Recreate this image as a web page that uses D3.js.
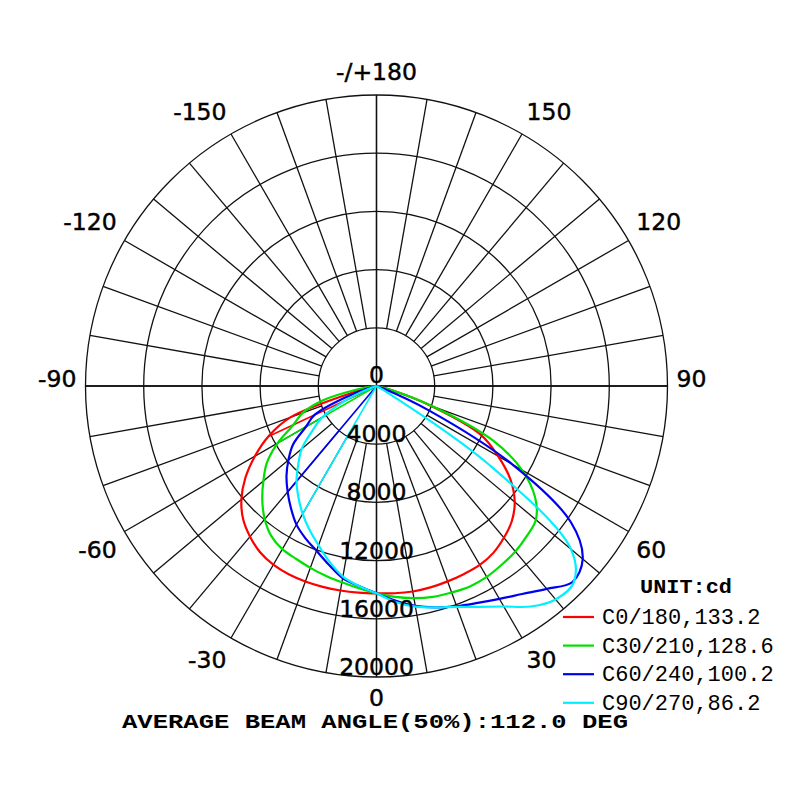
<!DOCTYPE html>
<html><head><meta charset="utf-8">
<script src="https://cdn.jsdelivr.net/npm/d3@7"></script>
<style>body{margin:0;background:#fff}svg{display:block}</style></head>
<body><svg id="c" width="800" height="800"></svg>
<script>
// ---- data (candela) ----
const GAMMA = [0,5,10,15,20,25,30,35,40,45,50,55,60,65,70,75,80,85,90];
const C0   = [14250,14300,14340,14330,14290,14250,14200,14000,13620,13150,12400,11250,9650,7900,4000,1000,100,0,0];
const C180 = [14250,14250,14270,14290,14300,14280,14180,13950,13520,12960,12120,11000,9650,8200,6300,1500,300,0,0];
const C30  = [14250,14550,14800,15000,15100,15200,15150,15000,14850,14600,14300,13300,11550,8800,4200,1000,100,0,0];
const C210 = [14250,13950,13700,13500,13300,13100,12950,12600,11950,11100,10150,9200,7850,6300,5400,3800,1300,200,0];
const C60  = [14250,14800,15350,15750,16100,16450,16900,17450,18200,19050,18500,16300,10800,4000,500,0,0,0,0];
const C240 = [14250,13800,13400,12700,12050,11550,11000,10250,9500,8750,7900,7000,5600,4700,2200,500,0,0,0];
const C90  = [14250,14900,15400,15750,16150,16750,17500,18500,19150,19150,17450,9500,500,0,0,0,0,0,0];
const C270 = [14250,13800,13300,12500,11650,10900,10150,9350,8550,7600,6700,5400,4300,2300,600,0,0,0,0];
const CHORD_GAMMA = [65, 60, 40, 30];
const SERIES_NAMES = ["C0/180,133.2", "C30/210,128.6", "C60/240,100.2", "C90/270,86.2"];
const SERIES_COLORS = ["#ff0000", "#00e000", "#0000f0", "#00f0ff"];
const RING_VALUES = [4000, 8000, 12000, 16000, 20000];
const RING_LABELS = ["0", "4000", "8000", "12000", "16000", "20000"];
const ANGLE_TICKS = [0, 30, 60, 90, 120, 150, 180, -150, -120, -90, -60, -30];
const ANGLE_TEXT = ["0", "30", "60", "90", "120", "150", "-/+180", "-150", "-120", "-90", "-60", "-30"];
const UNIT_TEXT = "UNIT:cd";
const TITLE_TEXT = "AVERAGE BEAM ANGLE(50%):112.0 DEG";

// ---- layout ----
const cx = 376.5, cy = 386, R = 291;
const svg = d3.select("#c");
svg.append("rect").attr("width", 800).attr("height", 800).attr("fill", "#fff");
const g = svg.append("g").attr("transform", `translate(${cx},${cy})`);
const rScale = d3.scaleLinear().domain([0, 20000]).range([0, R]);
// angle measured from nadir (down), positive to the right
const aScale = d3.scaleLinear().domain([-180, 180]).range([2 * Math.PI, 0]);
const pt = (deg, r) => d3.pointRadial(aScale(deg), r);

// grid circles
g.selectAll("circle.ring").data(RING_VALUES).join("circle")
  .attr("r", d => rScale(d)).attr("fill", "none")
  .attr("stroke", "#111").attr("stroke-width", 1.3);

// spokes
const spokes = d3.range(-170, 190, 10);
g.selectAll("line.spoke").data(spokes).join("line")
  .each(function (d) {
    const full = d % 90 === 0;
    const p0 = full ? [0, 0] : pt(d, rScale(RING_VALUES[0]));
    const p1 = pt(d, rScale(RING_VALUES[RING_VALUES.length - 1]));
    d3.select(this).attr("x1", p0[0]).attr("y1", p0[1]).attr("x2", p1[0]).attr("y2", p1[1]);
  })
  .attr("stroke", "#111").attr("stroke-width", 1.3);
[0, 90].forEach(d => {
  const a = pt(d, R), b = pt(d + 180, R);
  g.append("line").attr("x1", a[0]).attr("y1", a[1]).attr("x2", b[0]).attr("y2", b[1])
    .attr("stroke", "#111").attr("stroke-width", 1.3);
});

// curves
const series = [
  { right: C0, left: C180 },
  { right: C30, left: C210 },
  { right: C60, left: C240 },
  { right: C90, left: C270 }
].map((s, i) => ({ ...s, name: SERIES_NAMES[i], color: SERIES_COLORS[i], chord: CHORD_GAMMA[i] }));

const line = d3.lineRadial()
  .angle(d => aScale(d[0])).radius(d => rScale(d[1]))
  .curve(d3.curveCatmullRom.alpha(0.5));
const chordLine = d3.lineRadial().angle(d => aScale(d[0])).radius(d => rScale(d[1]));

series.forEach(s => {
  const pts = [];
  for (let j = GAMMA.length - 1; j >= 0; j--) pts.push([-GAMMA[j], s.left[j]]);
  for (let j = 1; j < GAMMA.length; j++) pts.push([GAMMA[j], s.right[j]]);
  g.append("path").attr("d", line(pts)).attr("fill", "none")
    .attr("stroke", s.color).attr("stroke-width", 2.2).attr("stroke-linejoin", "round");
  const k = GAMMA.indexOf(s.chord);
  g.append("path").attr("d", chordLine([[-s.chord, 0], [-s.chord, s.left[k]]]))
    .attr("fill", "none").attr("stroke", s.color).attr("stroke-width", 1.6);
});

const labelFont = sel => sel.attr("font-family", "DejaVu Sans, sans-serif").attr("font-size", 23.5)
  .attr("fill", "#000").attr("stroke", "#000").attr("stroke-width", 0.45);

// ring labels
const ringVals = [0].concat(RING_VALUES);
g.selectAll("text.ring").data(ringVals).join("text")
  .attr("x", 0).attr("y", (d, i) => i === 0 ? -3 : rScale(d) - 2)
  .attr("text-anchor", "middle")
  .call(labelFont).text((d, i) => RING_LABELS[i]);

// angle labels
ANGLE_TICKS.forEach((d, i) => {
  const rad = d * Math.PI / 180;
  const p = pt(d, 300);
  const s = Math.sin(rad), c = Math.cos(rad);
  const anchor = s > 0.01 ? "start" : (s < -0.01 ? "end" : "middle");
  const dy = Math.abs(c) < 0.01 ? -7 : (c > 0.99 ? 12 : (c > 0 ? 14 : -14));
  g.append("text").attr("x", p[0]).attr("y", p[1] + dy)
    .attr("text-anchor", anchor).attr("dominant-baseline", "central")
    .call(labelFont).text(ANGLE_TEXT[i]);
});

// legend
svg.append("text").attr("x", 640).attr("y", 593)
  .attr("font-family", "Liberation Mono, monospace").attr("font-weight", "bold")
  .attr("font-size", 21).attr("textLength", 92).attr("lengthAdjust", "spacingAndGlyphs")
  .attr("fill", "#000").text(UNIT_TEXT);
series.forEach((s, i) => {
  const y = 617 + i * 28.6;
  svg.append("line").attr("x1", 563).attr("x2", 594).attr("y1", y).attr("y2", y)
    .attr("stroke", s.color).attr("stroke-width", 2.2);
  svg.append("text").attr("x", 602).attr("y", y + 7)
    .attr("font-family", "Liberation Mono, monospace").attr("font-size", 22)
    .attr("fill", "#000").text(s.name);
});

// title
svg.append("text").attr("x", 122).attr("y", 728)
  .attr("font-family", "Liberation Mono, monospace").attr("font-weight", "bold")
  .attr("font-size", 21).attr("textLength", 506).attr("lengthAdjust", "spacingAndGlyphs")
  .attr("fill", "#000").text(TITLE_TEXT);
</script>
</body></html>
